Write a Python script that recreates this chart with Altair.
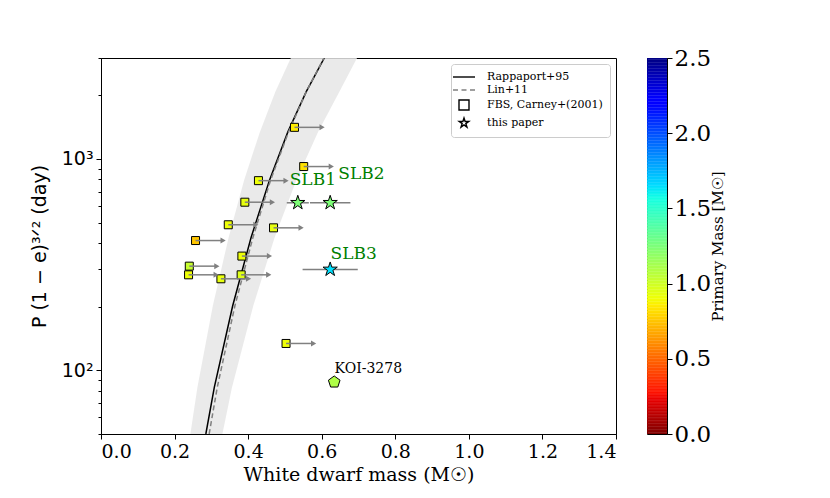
import altair as alt
import pandas as pd

# FBS, Carney+(2001): lower limits on white dwarf mass
fbs_mass = [0.526, 0.551, 0.428, 0.391, 0.346, 0.469, 0.257, 0.383, 0.240, 0.238, 0.326, 0.381, 0.503]
fbs_period = [1410, 920, 789, 624, 488, 472, 411, 347, 311, 283, 271, 283, 134]
fbs_primary = [0.85, 0.82, 0.90, 0.92, 0.90, 0.92, 0.75, 0.90, 1.02, 0.90, 0.92, 0.95, 0.90]

# this paper
slb_name = ["SLB1", "SLB2", "SLB3"]
slb_mass = [0.535, 0.623, 0.623]
slb_err = [0.030, 0.055, 0.075]
slb_period = [620, 620, 300]
slb_primary = [1.24, 1.24, 1.64]
slb_label_x = [0.513, 0.645, 0.624]
slb_label_y = [796, 849, 356]

# KOI-3278
koi_name = ["KOI-3278"]
koi_mass = [0.634]
koi_period = [88]
koi_primary = [1.09]
koi_label_x = [0.635]
koi_label_y = [102]

# theoretical relations
rel_period = [50, 83, 202, 425, 793, 1342, 2080, 3000]
rap_mass = [0.285, 0.308, 0.358, 0.408, 0.458, 0.508, 0.558, 0.607]
lin_mass = [0.294, 0.316, 0.364, 0.413, 0.461, 0.510, 0.558, 0.606]
band_lo = [0.243, 0.262, 0.304, 0.347, 0.389, 0.432, 0.474, 0.516]
band_hi = [0.330, 0.356, 0.414, 0.472, 0.531, 0.590, 0.648, 0.696]

# reversed jet colour map
cmap_stops = [0, 0.225, 0.275, 0.85, 0.9, 1.5625, 1.625, 1.65, 2.1875, 2.225, 2.5]
cmap_colors = ["#800000", "#e80000", "#ff1300", "#ffec00", "#eeff08", "#14ffe2",
               "#00e6f7", "#00dbff", "#0000ff", "#0000ff", "#000080"]
cbar_ticks = [0, 0.5, 1.0, 1.5, 2.0, 2.5]

x_ticks = [0, 0.2, 0.4, 0.6, 0.8, 1.0, 1.2, 1.4]
y_ticks = [50, 60, 70, 80, 90, 100, 200, 300, 400, 500, 600, 700, 800, 900, 1000, 2000, 3000]

STAR = ("M0,-1L0.2245,-0.309L0.951,-0.309L0.363,0.118L0.588,0.809L0,0.382"
        "L-0.588,0.809L-0.363,0.118L-0.951,-0.309L-0.2245,-0.309Z")
PENTAGON = "M0,-1L0.951,-0.309L0.588,0.809L-0.588,0.809L-0.951,-0.309Z"

legend_labels = ["Rappaport+95", "Lin+11", "FBS, Carney+(2001)", "this paper"]
legend_shapes = ["M-2.2,0H2.2", "M-2.2,0H-1.2M-0.5,0H0.5M1.2,0H2.2", "square", STAR]
legend_sizes = [100, 100, 30, 160]
legend_strokes = ["black", "gray", "black", "black"]

SERIF = "DejaVu Serif"
SANS = "DejaVu Sans"

fbs = pd.DataFrame({"mass": fbs_mass, "period": fbs_period, "primary": fbs_primary})
slb = pd.DataFrame({"name": slb_name, "mass": slb_mass, "err": slb_err, "period": slb_period,
                    "primary": slb_primary, "lx": slb_label_x, "ly": slb_label_y})
koi = pd.DataFrame({"name": koi_name, "mass": koi_mass, "period": koi_period,
                    "primary": koi_primary, "lx": koi_label_x, "ly": koi_label_y})
rel = pd.DataFrame({"period": rel_period, "rap": rap_mass, "lin": lin_mass,
                    "lo": band_lo, "hi": band_hi})
leg = pd.DataFrame({"label": legend_labels})

x_scale = alt.Scale(domain=[0, 1.4], nice=False)
y_scale = alt.Scale(type="log", domain=[50, 3000], nice=False)

x_axis = alt.Axis(orient="bottom", values=x_ticks, format=".1f", labelFont=SERIF,
                  labelFontSize=19, titleFont=SERIF, titleFontSize=19, tickSize=5,
                  labelPadding=3, titlePadding=4)
y_axis = alt.Axis(orient="left", values=y_ticks, labelFont=SANS, labelFontSize=19,
                  labelExpr="datum.value == 100 ? '10²' : datum.value == 1000 ? '10³' : ''",
                  tickSize={"condition": {"test": "datum.value == 100 || datum.value == 1000",
                                          "value": 5}, "value": 3},
                  titleFont=SANS, titleFontSize=19, titlePadding=12, labelPadding=3)

X_TITLE = "White dwarf mass (M☉)"
Y_TITLE = "P (1 − e)³ᐟ² (day)"


def X(field):
    return alt.X(field, type="quantitative", scale=x_scale, axis=x_axis, title=X_TITLE)


def Y(field):
    return alt.Y(field, type="quantitative", scale=y_scale, axis=y_axis, title=Y_TITLE)


jet_r = alt.Scale(domain=cmap_stops, range=cmap_colors, interpolate="rgb")
color = alt.Fill("primary:Q", scale=jet_r, legend=None)

band = alt.Chart(rel).mark_area(color="#e6e6e6", opacity=0.85, orient="horizontal", clip=True).encode(
    x=X("lo"), x2="hi", y=Y("period"))
rap = alt.Chart(rel).mark_line(color="black", strokeWidth=1.5, clip=True).encode(
    x=X("rap"), y=Y("period"), order="period:Q")
lin = alt.Chart(rel).mark_line(color="gray", strokeWidth=1.5, strokeDash=[5, 3], clip=True).encode(
    x=X("lin"), y=Y("period"), order="period:Q")

squares = alt.Chart(fbs).mark_point(shape="square", filled=True, size=64, stroke="black",
                                    strokeWidth=1, opacity=1).encode(
    x=X("mass"), y=Y("period"), fill=color)
fbs_arrow = alt.Chart(fbs).transform_calculate(tip="datum.mass + 0.075")
arrow_lines = fbs_arrow.mark_rule(color="gray", strokeWidth=1.5).encode(
    x=X("mass"), x2="tip:Q", y=Y("period"))
arrow_heads = fbs_arrow.mark_point(shape="triangle-right", filled=True, color="gray",
                                   size=36, opacity=1).encode(x=X("tip"), y=Y("period"))

slb_err_bars = alt.Chart(slb).transform_calculate(
    lo="datum.mass - datum.err", hi="datum.mass + datum.err").mark_rule(
    color="gray", strokeWidth=1.5).encode(x=X("lo"), x2="hi:Q", y=Y("period"))
stars = alt.Chart(slb).mark_point(shape=STAR, filled=True, size=225, stroke="black",
                                  strokeWidth=1, opacity=1).encode(
    x=X("mass"), y=Y("period"), fill=color)
slb_text = alt.Chart(slb).mark_text(align="left", baseline="middle", font=SERIF,
                                    fontSize=17, color="green").encode(
    x=X("lx"), y=Y("ly"), text="name:N")

pentagon = alt.Chart(koi).mark_point(shape=PENTAGON, filled=True, size=150, stroke="black",
                                     strokeWidth=1, opacity=1).encode(
    x=X("mass"), y=Y("period"), fill=color)
koi_text = alt.Chart(koi).mark_text(align="left", baseline="middle", font=SERIF,
                                    fontSize=14, color="black").encode(
    x=X("lx"), y=Y("ly"), text="name:N")

key_legend = alt.Legend(orient="top-right", offset=6, title=None, fillColor="white",
                        strokeColor="#cccccc", cornerRadius=3, padding=7,
                        labelFont=SERIF, labelFontSize=11, labelColor="black",
                        labelOffset=17, rowPadding=2, symbolStrokeWidth=1.4,
                        symbolOpacity=1)
key = alt.Chart(leg).transform_filter("false").mark_point(
    filled=False, strokeWidth=1.4, opacity=1).encode(
    shape=alt.Shape("label:N", scale=alt.Scale(domain=legend_labels, range=legend_shapes),
                    legend=key_legend),
    size=alt.Size("label:N", scale=alt.Scale(domain=legend_labels, range=legend_sizes),
                  legend=key_legend),
    stroke=alt.Stroke("label:N", scale=alt.Scale(domain=legend_labels, range=legend_strokes),
                      legend=key_legend),
)

main = alt.layer(
    band, rap, lin, squares, arrow_lines, arrow_heads, slb_err_bars, stars, slb_text,
    pentagon, koi_text, key
).properties(width=515, height=376)

# colour bar
cbar = alt.Chart(alt.sequence(0, 2.5, 0.01, as_="m")).transform_calculate(
    m2="datum.m + 0.012"
).mark_rect(clip=True, strokeWidth=0).encode(
    y=alt.Y("m:Q", scale=alt.Scale(domain=[0, 2.5], nice=False),
            axis=alt.Axis(orient="right", values=cbar_ticks, format=".1f", labelFont=SERIF,
                          labelFontSize=23, tickSize=5, labelPadding=2,
                          title="Primary Mass [M☉]", titleAngle=270, titleBaseline="top",
                          titleFont=SERIF, titleFontSize=15, titlePadding=0)),
    y2="m2:Q",
    fill=alt.Fill("m:Q", scale=jet_r, legend=None),
).properties(width=20, height=376)

chart = alt.hconcat(main, cbar, spacing=31, bounds="flush").resolve_scale(
    fill="independent", shape="independent", size="independent", stroke="independent"
).resolve_legend(
    shape="independent", size="independent", stroke="independent"
).properties(
    padding={"left": 21, "top": 38, "right": 10, "bottom": 10},
).configure_view(stroke="black", strokeWidth=1).configure_axis(
    grid=False, domainColor="black", tickColor="black", labelColor="black",
    titleColor="black", titleFontWeight="normal"
)

chart.save("out.html", embed_options={"renderer": "svg", "actions": False})
